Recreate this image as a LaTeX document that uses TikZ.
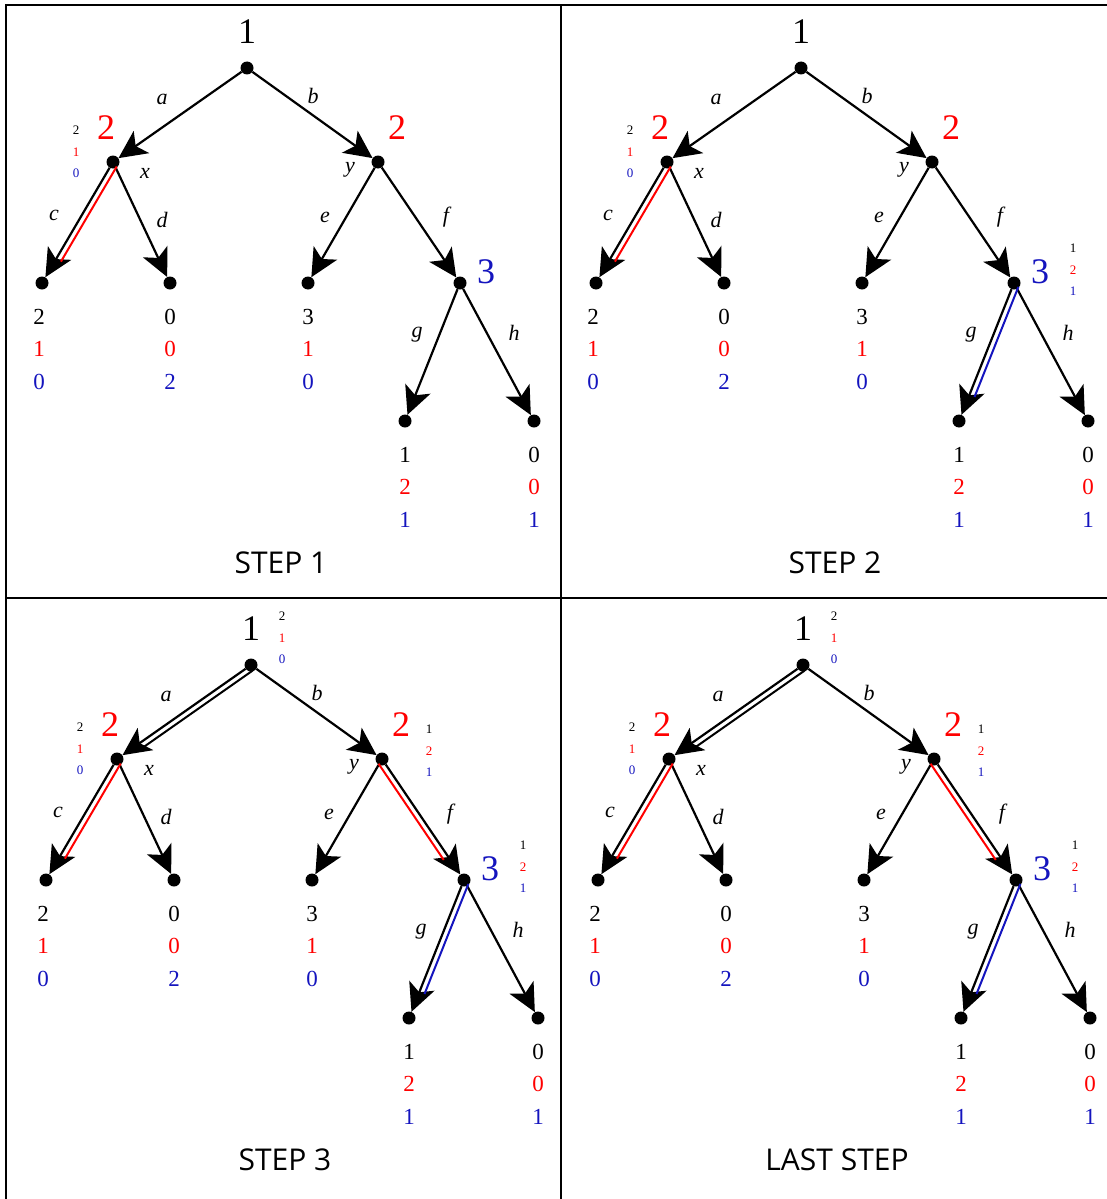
\documentclass[tikz,border=0pt]{standalone}
\usepackage{fontspec}
\setmainfont{Liberation Serif}
\newfontfamily\stepfont{Open Sans}
\usetikzlibrary{arrows.meta,calc}
\definecolor{valred}{RGB}{255,0,0}
\definecolor{valblue}{RGB}{20,20,190}

\begin{document}
\begin{tikzpicture}[x=1pt,y=-1pt,
  dot/.style={circle, fill, inner sep=0pt, minimum size=13pt},
  ar/.style={line width=2.2pt, -{Stealth[length=28pt,width=27pt,inset=7pt]}},
  hl/.style={line width=2pt, shorten <=2pt, shorten >=28pt},
  big/.style={font=\fontsize{36}{40}\selectfont, inner sep=0pt},
  lbl/.style={font=\fontsize{22}{24}\selectfont\itshape, inner sep=0pt},
  pay/.style={font=\fontsize{23}{32.5}\selectfont, align=center, inner sep=0pt},
  ann/.style={font=\fontsize{13}{21.5}\selectfont, align=center, inner sep=0pt},
  ttl/.style={font=\stepfont\fontsize{30}{32}\selectfont, inner sep=0pt},
  frame/.style={line width=2pt}
]
\useasboundingbox (0,0) rectangle (1107,1199);
% panel frame
\draw[frame] (6,1199) -- (6,5) -- (1107,5);
\draw[frame] (561,5) -- (561,1199);
\draw[frame] (6,598) -- (1107,598);

\foreach \p/\dx/\dy/\lvl/\ttltext in {1/0/0/1/STEP 1, 2/554/0/2/STEP 2, 3/4/597/3/STEP 3, 4/556/597/3/LAST STEP}{
\begin{scope}[shift={(\dx,\dy)}]
% decision nodes and leaves
\node[dot] (root\p) at (247,68) {};
\node[dot] (nx\p) at (113,162) {};
\node[dot] (ny\p) at (378,162) {};
\node[dot] (nz\p) at (460,283) {};
\node[dot] (lc\p) at (42,283) {};
\node[dot] (ld\p) at (170,283) {};
\node[dot] (le\p) at (308,283) {};
\node[dot] (lg\p) at (405,421) {};
\node[dot] (lh\p) at (534,421) {};

\draw[ar] (root\p) -- (nx\p);
\draw[ar] (root\p) -- (ny\p);
\draw[ar] (nx\p) -- (lc\p);
\draw[ar] (nx\p) -- (ld\p);
\draw[ar] (ny\p) -- (le\p);
\draw[ar] (ny\p) -- (nz\p);
\draw[ar] (nz\p) -- (lg\p);
\draw[ar] (nz\p) -- (lh\p);

% players
\node[big] (pl1\p) at (247,32) {1};
\node[big, valred] (pl2\p) at (106,128) {2};
\node[big, valred] (pl3\p) at (397,128) {2};
\node[big, valblue] (pl4\p) at (486,272) {3};

% actions
\node[lbl] (la\p) at (162,99) {a};
\node[lbl] (lb\p) at (313,96) {b};
\node[lbl] (lx\p) at (145,173) {x};
\node[lbl] (ly\p) at (350,170) {y};
\node[lbl] (lcc\p) at (54,215) {c};
\node[lbl] (ldd\p) at (162,220) {d};
\node[lbl] (lee\p) at (325,217) {e};
\node[lbl] (lff\p) at (446,217) {f};
\node[lbl] (lgg\p) at (417,335) {g};
\node[lbl] (lhh\p) at (514,333) {h};

% payoffs
\node[pay] (pc\p) at (39,349) {2\\\textcolor{valred}{1}\\\textcolor{valblue}{0}};
\node[pay] (pd\p) at (170,349) {0\\\textcolor{valred}{0}\\\textcolor{valblue}{2}};
\node[pay] (pe\p) at (308,349) {3\\\textcolor{valred}{1}\\\textcolor{valblue}{0}};
\node[pay] (pg\p) at (405,487) {1\\\textcolor{valred}{2}\\\textcolor{valblue}{1}};
\node[pay] (ph\p) at (534,487) {0\\\textcolor{valred}{0}\\\textcolor{valblue}{1}};

% backward induction
\node[ann] (sx\p) at (76,152) {2\\\textcolor{valred}{1}\\\textcolor{valblue}{0}};
\draw[hl, valred] ($(nx\p)!5.5pt!90:(lc\p)$) -- ($(lc\p)!5.5pt!-90:(nx\p)$);
\ifnum\lvl>1
\node[ann] (sz\p) at (519,270) {1\\\textcolor{valred}{2}\\\textcolor{valblue}{1}};
\draw[hl, valblue] ($(nz\p)!5.5pt!90:(lg\p)$) -- ($(lg\p)!5.5pt!-90:(nz\p)$);
\fi
\ifnum\lvl>2
\node[ann] (sr\p) at (278,41) {2\\\textcolor{valred}{1}\\\textcolor{valblue}{0}};
\node[ann] (sy\p) at (425,154) {1\\\textcolor{valred}{2}\\\textcolor{valblue}{1}};
\draw[hl] ($(root\p)!5.5pt!90:(nx\p)$) -- ($(nx\p)!5.5pt!-90:(root\p)$);
\draw[hl, valred] ($(ny\p)!5.5pt!-90:(nz\p)$) -- ($(nz\p)!5.5pt!90:(ny\p)$);
\fi

\node[ttl] (st\p) at (281,563) {\ttltext};
\end{scope}
}
\end{tikzpicture}
\end{document}
